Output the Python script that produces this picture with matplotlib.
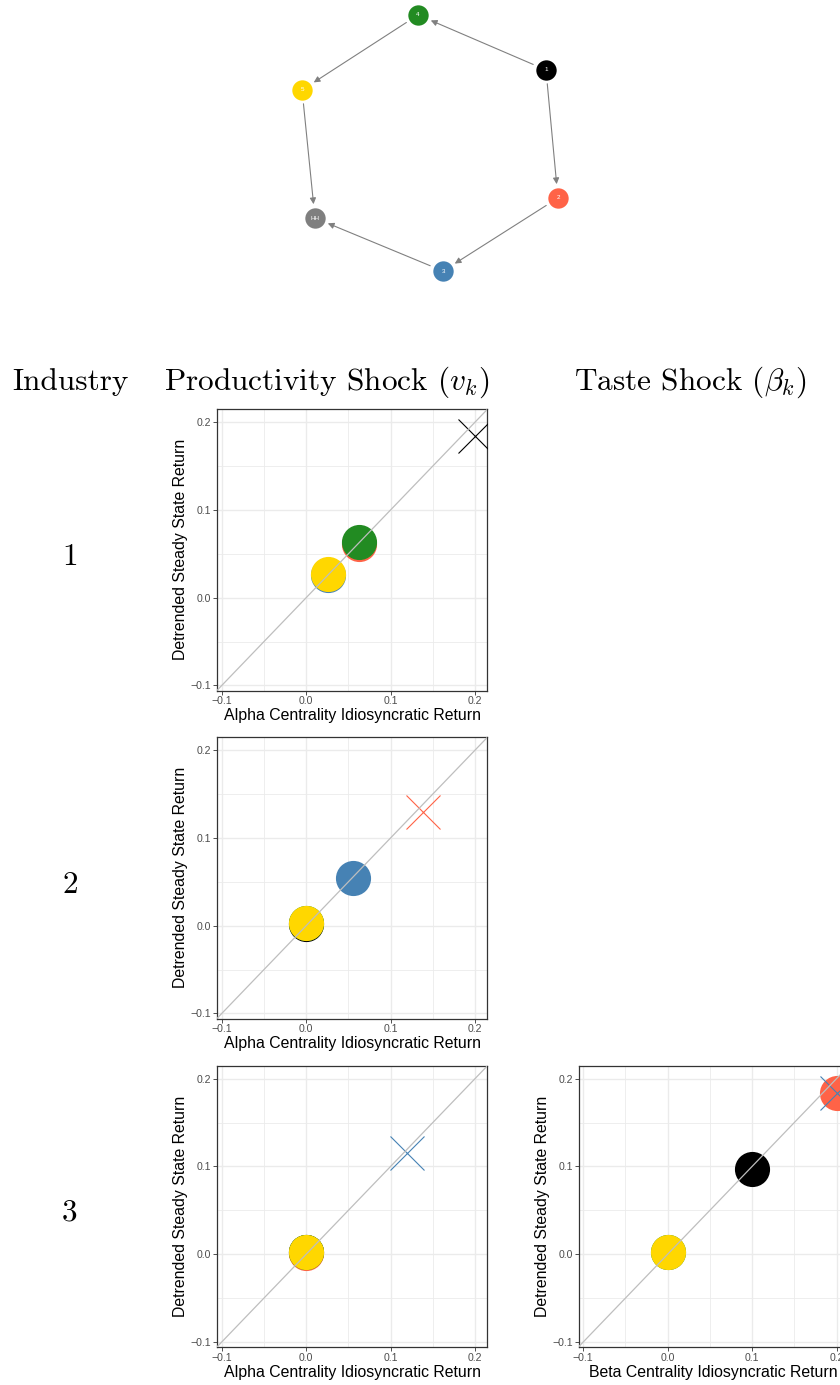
import matplotlib
matplotlib.use("Agg")
import matplotlib.pyplot as plt
import numpy as np

plt.rcParams['mathtext.fontset'] = 'cm'

# industry colours: 1..5 and the household node
ind_colors = ['black', '#FF6347', '#4682B4', '#228B22', '#FFD700']
hh_color = '#7F7F7F'

# network layout (ring layout coordinates)
nodes = ['1', '2', '3', '4', '5', 'HH']
node_x = [0.872, 0.962, 0.098, -0.090, -0.962, -0.865]
node_y = [0.562, -0.423, -0.985, 0.985, 0.408, -0.577]
edges = [('1', '4'), ('4', '5'), ('5', 'HH'), ('1', '2'), ('2', '3'), ('3', 'HH')]

# productivity shock to industry 1, 2, 3 (alpha centrality vs detrended return)
alpha_x1 = [0.200, 0.063, 0.026, 0.063, 0.026]
ss_y1 = [0.184, 0.0615, 0.0255, 0.0635, 0.027]
alpha_x2 = [0.000, 0.138, 0.056, 0.000, 0.000]
ss_y2 = [0.0015, 0.130, 0.054, 0.003, 0.003]
alpha_x3 = [0.000, 0.000, 0.120, 0.000, 0.000]
ss_y3 = [0.003, 0.0012, 0.115, 0.003, 0.003]
# taste shock to industry 3 (beta centrality)
beta_x3 = [0.100, 0.200, 0.200, 0.000, 0.000]
beta_y3 = [0.097, 0.184, 0.184, 0.002, 0.003]

ticks = [-0.1, 0.0, 0.1, 0.2]
tick_labels = ['\u22120.1', '0.0', '0.1', '0.2']
minor_ticks = [-0.05, 0.05, 0.15]

W, H = 840, 1385
fig = plt.figure(figsize=(W / 100, H / 100), dpi=100)


def px_axes(left, top, width, height):
    return fig.add_axes([left / W, 1 - (top + height) / H, width / W, height / H])


# ---- network diagram ----
net = px_axes(270.4, 0, 319.2, 286)
net.set_xlim(-1.2, 1.2)
net.set_ylim(-1.1, 1.1)
net.axis('off')
pos = {n: (x, y) for n, x, y in zip(nodes, node_x, node_y)}
for a, b in edges:
    net.annotate('', xy=pos[b], xytext=pos[a],
                 arrowprops=dict(arrowstyle='-|>', color='#808080', lw=0.8,
                                 mutation_scale=9, shrinkA=10, shrinkB=10))
node_cols = ind_colors + [hh_color]
for n, x, y, c in zip(nodes, node_x, node_y, node_cols):
    net.scatter(x, y, s=215, color=c, linewidths=0, zorder=3, clip_on=False)
    net.text(x, y, n, color='white', fontsize=4.5, ha='center', va='center',
             fontfamily='Liberation Sans', zorder=4)

# ---- headers ----
hdr = dict(fontsize=22.5, fontfamily='cmr10', ha='center', va='center')
fig.text(70 / W, 1 - 382 / H, 'Industry', **hdr)
fig.text(327 / W, 1 - 382 / H, r'Productivity Shock ($v_k$)', **hdr)
fig.text(690 / W, 1 - 382 / H, r'Taste Shock ($\beta_k$)', **hdr)
for lab, yc in zip(['1', '2', '3'], [557, 885, 1213]):
    fig.text(70 / W, 1 - yc / H, lab, **hdr)


def scatter_panel(ax, xs, ys, shocked, xlabel):
    ax.set_xlim(-0.1056, 0.2142)
    ax.set_ylim(-0.1057, 0.2150)
    ax.set_xticks(ticks)
    ax.set_xticklabels(tick_labels)
    ax.set_yticks(ticks)
    ax.set_yticklabels(tick_labels)
    ax.set_xticks(minor_ticks, minor=True)
    ax.set_yticks(minor_ticks, minor=True)
    ax.tick_params(which='major', length=3.0, width=0.6, color='#333333',
                   labelsize=7.6, labelcolor='#4D4D4D', pad=1.2)
    ax.tick_params(which='minor', length=0)
    for lab in ax.get_xticklabels() + ax.get_yticklabels():
        lab.set_fontfamily('Liberation Sans')
    ax.grid(which='major', color='#EBEBEB', lw=1.0)
    ax.grid(which='minor', color='#EBEBEB', lw=0.6)
    ax.set_axisbelow(True)
    for sp in ax.spines.values():
        sp.set_color('#333333')
        sp.set_linewidth(0.9)
    for i, (x, y) in enumerate(zip(xs, ys)):
        if i == shocked:
            ax.plot(x, y, marker='x', ms=25, mew=0.8, color=ind_colors[i],
                    linestyle='none', zorder=3)
        else:
            ax.scatter(x, y, s=640, color=ind_colors[i], linewidths=0, zorder=3)
    ax.axline((0, 0), slope=1, color='#BEBEBE', lw=0.9, zorder=4)
    ax.set_xlabel(xlabel, fontsize=11.4, fontfamily='Liberation Sans', labelpad=1.5)
    ax.set_ylabel('Detrended Steady State Return', fontsize=11.4,
                  fontfamily='Liberation Sans', labelpad=1.5)


ax1 = px_axes(217, 409, 270, 281.5)
scatter_panel(ax1, alpha_x1, ss_y1, 0, 'Alpha Centrality Idiosyncratic Return')
ax2 = px_axes(217, 737, 270, 281.5)
scatter_panel(ax2, alpha_x2, ss_y2, 1, 'Alpha Centrality Idiosyncratic Return')
ax3 = px_axes(217, 1065.5, 270, 281.5)
scatter_panel(ax3, alpha_x3, ss_y3, 2, 'Alpha Centrality Idiosyncratic Return')
ax4 = px_axes(578.5, 1065.5, 270, 281.5)
scatter_panel(ax4, beta_x3, beta_y3, 2, 'Beta Centrality Idiosyncratic Return')

fig.savefig('out.png', dpi=100)
